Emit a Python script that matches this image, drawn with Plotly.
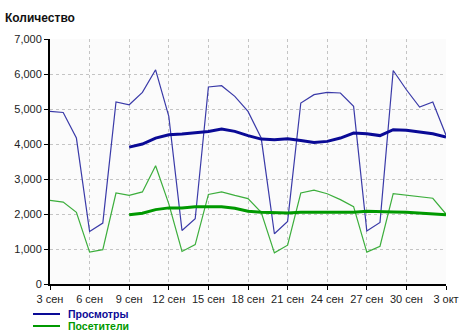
import plotly.graph_objects as go
import pandas as pd

dates = [d.strftime("%Y-%m-%d") for d in pd.date_range("2008-09-03", "2008-10-03", freq="D")]

views = [4930, 4900, 4170, 1500, 1740, 5200, 5120, 5475, 6120, 4790, 1530, 1865,
         5630, 5665, 5360, 4930, 4170, 1435, 1790, 5170, 5410, 5475, 5457, 5075,
         1515, 1760, 6100, 5550, 5055, 5200, 4250]
visitors = [2390, 2340, 2050, 910, 980, 2600, 2530, 2630, 3380, 2290, 930, 1125,
            2560, 2630, 2530, 2440, 2050, 890, 1110, 2600, 2680, 2580, 2410, 2210,
            910, 1080, 2580, 2530, 2480, 2450, 2000]
views_avg = [None] * 6 + [3910, 4000, 4170, 4265, 4285, 4315, 4360, 4430, 4360, 4240,
                          4140, 4120, 4150, 4100, 4045, 4075, 4170, 4315, 4295, 4240,
                          4410, 4390, 4340, 4295, 4200]
visitors_avg = [None] * 6 + [1980, 2020, 2125, 2175, 2175, 2210, 2210, 2210, 2165, 2080,
                             2050, 2030, 2030, 2050, 2050, 2050, 2050, 2050, 2080, 2080,
                             2060, 2050, 2030, 2020, 1980]

tick_dates = dates[::3]
tick_labels = ["3 сен", "6 сен", "9 сен", "12 сен", "15 сен", "18 сен", "21 сен",
               "24 сен", "27 сен", "30 сен", "3 окт"]

series_names = ["Просмотры", "Посетители"]
thin_colors = ["#3a3aa8", "#3cae3c"]
thick_colors = ["#0a0a96", "#009900"]

W, H = 470, 335
M = dict(l=50, r=24, t=39, b=51)
plot_w = W - M["l"] - M["r"]
plot_h = H - M["t"] - M["b"]

def px_x(px):
    return (px - M["l"]) / plot_w

def px_y(py):
    return (H - M["b"] - py) / plot_h

fig = go.Figure()
fig.add_trace(go.Scatter(x=dates, y=views, mode="lines", name=series_names[0],
                         line=dict(color=thin_colors[0], width=1.2), showlegend=False))
fig.add_trace(go.Scatter(x=dates, y=visitors, mode="lines", name=series_names[1],
                         line=dict(color=thin_colors[1], width=1.2), showlegend=False))
fig.add_trace(go.Scatter(x=dates, y=views_avg, mode="lines", name=series_names[0],
                         line=dict(color=thick_colors[0], width=3), showlegend=False))
fig.add_trace(go.Scatter(x=dates, y=visitors_avg, mode="lines", name=series_names[1],
                         line=dict(color=thick_colors[1], width=3), showlegend=False))

# legend drawn as line samples + coloured bold labels
legend_rows = [314, 326]
for name, col, row in zip(series_names, thick_colors, legend_rows):
    fig.add_shape(type="line", xref="paper", yref="paper",
                  x0=px_x(33), x1=px_x(60), y0=px_y(row), y1=px_y(row),
                  line=dict(color=col, width=2))
    fig.add_annotation(text=f"<b>{name}</b>", xref="paper", yref="paper",
                       x=px_x(67), y=px_y(row), xanchor="left", yanchor="middle",
                       showarrow=False, borderpad=0, font=dict(size=10.5, color=col))

fig.update_layout(
    width=W, height=H,
    margin=M,
    showlegend=False,
    paper_bgcolor="white",
    plot_bgcolor="#fbfbfb",
    font=dict(family="Liberation Sans, Arial, sans-serif", size=11, color="#222222"),
    title=dict(text="<b>Количество</b>", x=5/W, xref="container", xanchor="left",
               y=1 - 18/H, yref="container", yanchor="middle",
               font=dict(size=12, color="#111111")),
    xaxis=dict(type="date", range=[dates[0], dates[-1]], tickvals=tick_dates, ticktext=tick_labels,
               showgrid=True, gridcolor="#c4c4c4", griddash="dot", gridwidth=1,
               showline=True, linecolor="black", linewidth=2, ticks="outside", ticklen=4,
               tickcolor="black", tickwidth=1, zeroline=False, mirror=False),
    yaxis=dict(range=[0, 7000], tickvals=[0, 1000, 2000, 3000, 4000, 5000, 6000, 7000],
               tickformat=",d", showgrid=True, gridcolor="#c4c4c4", griddash="dot", gridwidth=1,
               showline=True, linecolor="black", linewidth=2, ticks="outside", ticklen=4,
               tickcolor="black", tickwidth=1, zeroline=False),
)

fig.write_html("out.html")
